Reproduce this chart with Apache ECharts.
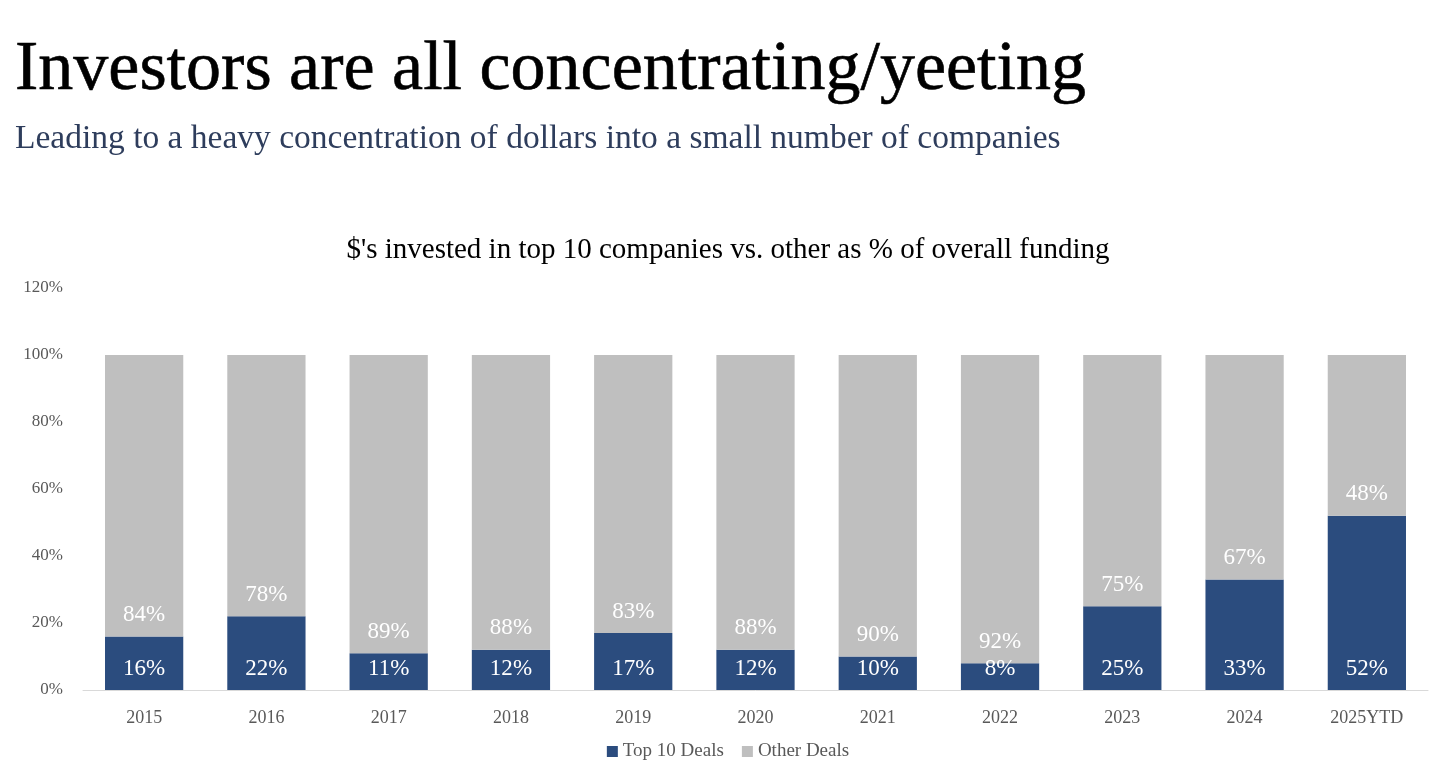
<!DOCTYPE html>
<html>
<head>
<meta charset="utf-8">
<script src="https://cdn.jsdelivr.net/npm/echarts@6/dist/echarts.min.js"></script>
<style>
html,body{margin:0;padding:0;background:#fff;}
#c{width:1456px;height:769px;}
</style>
</head>
<body>
<div id="c"></div>
<script>
const categories = ['2015','2016','2017','2018','2019','2020','2021','2022','2023','2024','2025YTD'];
const top10Deals = [16,22,11,12,17,12,10,8,25,33,52];
const otherDeals = [84,78,89,88,83,88,90,92,75,67,48];
const yTicks = [0,20,40,60,80,100,120];

const serif = '"Liberation Serif","DejaVu Serif",serif';
const chart = echarts.init(document.getElementById('c'));
chart.setOption({
  backgroundColor:'#fff',
  animation:false,
  title:[
    {text:'Investors are all concentrating/yeeting',left:10,top:31,
     textStyle:{fontFamily:serif,fontSize:70,fontWeight:'normal',color:'#000',
       textBorderColor:'#000',textBorderWidth:0.6}},
    {text:'Leading to a heavy concentration of dollars into a small number of companies',left:10,top:117,
     textStyle:{fontFamily:serif,fontSize:33.5,fontWeight:'normal',color:'#2e3d5c'}},
    {text:"$'s invested in top 10 companies vs. other as % of overall funding",left:'center',top:231,
     textStyle:{fontFamily:serif,fontSize:29,fontWeight:'normal',color:'#000'}}
  ],
  legend:{bottom:3,left:'center',itemWidth:11,itemHeight:11,itemGap:18,icon:'rect',
    textStyle:{fontFamily:serif,fontSize:19,color:'#595959'},
    data:['Top 10 Deals','Other Deals']},
  grid:{left:83,right:28,top:288,bottom:79,containLabel:false},
  xAxis:{type:'category',data:categories,
    axisLine:{lineStyle:{color:'#d9d9d9'}},axisTick:{show:false},
    axisLabel:{fontFamily:serif,fontSize:18,color:'#595959',margin:19}},
  yAxis:{type:'value',min:0,max:120,interval:20,
    axisLabel:{fontFamily:serif,fontSize:17,color:'#595959',margin:20,
      formatter:v=>yTicks.includes(v)?v+'%':''},
    splitLine:{show:false},axisLine:{show:false},axisTick:{show:false}},
  series:[
    {name:'Top 10 Deals',type:'bar',stack:'a',data:top10Deals,barCategoryGap:'36%',
     itemStyle:{color:'#2b4c7e'},
     label:{show:true,position:'insideBottom',distance:10,formatter:'{c}%',
       fontFamily:serif,fontSize:23,color:'#fff'}},
    {name:'Other Deals',type:'bar',stack:'a',data:otherDeals,
     itemStyle:{color:'#bfbfbf'},
     label:{show:true,position:'insideBottom',distance:10,formatter:'{c}%',
       fontFamily:serif,fontSize:23,color:'#fff'}}
  ]
});
</script>
</body>
</html>
